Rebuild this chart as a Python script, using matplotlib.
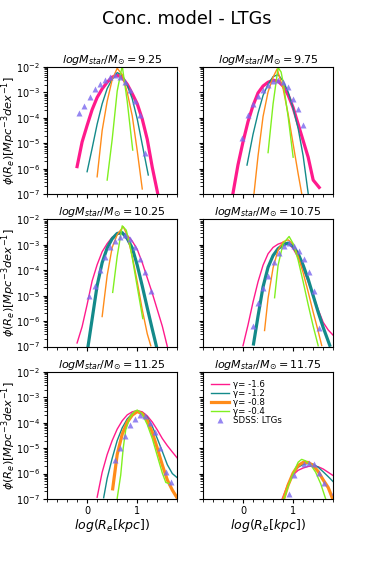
import numpy as np
import matplotlib
matplotlib.use("Agg")
import matplotlib.pyplot as plt
from matplotlib.ticker import MultipleLocator, LogLocator, NullFormatter

# mass bins (panel titles)
masses = ["9.25", "9.75", "10.25", "10.75", "11.25", "11.75"]
gammas = ["-1.6", "-1.2", "-0.8", "-0.4"]

# values: x = log(Re/kpc), y = log10(phi)
# --- logM = 9.25
p1_pink_x = [-0.2, -0.1, 0.0, 0.1, 0.2, 0.3, 0.4, 0.5, 0.6, 0.7, 0.8, 0.9, 1.0, 1.1, 1.2, 1.3, 1.4, 1.45]
p1_pink_y = [-5.92, -4.95, -4.3, -3.68, -3.2, -2.86, -2.6, -2.4, -2.32, -2.42, -2.68, -3.05, -3.45, -4.05, -4.85, -5.95, -6.9, -7.4]
p1_teal_x = [0.0, 0.1, 0.2, 0.3, 0.4, 0.5, 0.6, 0.7, 0.8, 0.9, 1.0, 1.1, 1.2, 1.22]
p1_teal_y = [-6.12, -5.2, -4.25, -3.45, -2.85, -2.48, -2.22, -2.33, -2.71, -3.25, -4.05, -5.05, -6.05, -6.25]
p1_orng_x = [0.2, 0.3, 0.4, 0.5, 0.6, 0.7, 0.8, 0.9, 1.0, 1.1]
p1_orng_y = [-6.32, -4.5, -3.35, -2.5, -2.05, -2.3, -3.0, -3.92, -5.3, -6.8]
p1_grn_x = [0.4, 0.5, 0.6, 0.7, 0.8, 0.9, 0.91]
p1_grn_y = [-6.45, -4.85, -2.95, -1.95, -3.35, -5.1, -5.27]
p1_sdss_x = [-0.16, -0.06, 0.05, 0.15, 0.25, 0.35, 0.45, 0.55, 0.65, 0.75, 0.85, 0.96, 1.06, 1.16]
p1_sdss_y = [-3.82, -3.54, -3.17, -2.86, -2.65, -2.5, -2.38, -2.32, -2.38, -2.58, -2.92, -3.33, -3.89, -5.38]

# --- logM = 9.75
p2_pink_x = [-0.2, -0.1, 0.0, 0.1, 0.2, 0.3, 0.4, 0.5, 0.6, 0.7, 0.8, 0.9, 1.0, 1.1, 1.2, 1.3, 1.4, 1.52]
p2_pink_y = [-6.97, -5.85, -4.95, -4.15, -3.52, -3.02, -2.75, -2.6, -2.52, -2.56, -2.75, -3.1, -3.6, -4.25, -4.9, -5.55, -6.45, -6.74]
p2_teal_x = [0.08, 0.2, 0.3, 0.4, 0.5, 0.6, 0.7, 0.8, 0.9, 1.0, 1.1, 1.2, 1.3]
p2_teal_y = [-5.86, -4.65, -3.82, -3.12, -2.68, -2.38, -2.3, -2.55, -2.98, -3.62, -4.42, -5.5, -6.97]
p2_orng_x = [0.22, 0.3, 0.4, 0.5, 0.6, 0.68, 0.8, 0.9, 1.0, 1.1, 1.17]
p2_orng_y = [-6.97, -5.5, -3.95, -2.98, -2.4, -2.08, -2.85, -3.85, -5.03, -6.2, -6.97]
p2_grn_x = [0.5, 0.6, 0.7, 0.76, 0.8, 0.9, 1.0]
p2_grn_y = [-5.37, -3.45, -2.02, -2.2, -2.6, -3.95, -5.55]
p2_sdss_x = [-0.01, 0.09, 0.19, 0.29, 0.39, 0.49, 0.59, 0.69, 0.79, 0.89, 0.99, 1.09, 1.2]
p2_sdss_y = [-4.81, -3.89, -3.47, -3.14, -2.91, -2.71, -2.55, -2.51, -2.58, -2.8, -3.26, -3.67, -4.3]

# --- logM = 10.25
p3_pink_x = [-0.2, -0.1, 0.0, 0.1, 0.2, 0.3, 0.4, 0.5, 0.6, 0.7, 0.8, 0.9, 1.0, 1.1, 1.2, 1.3, 1.4, 1.5, 1.6]
p3_pink_y = [-6.86, -6.22, -5.35, -4.42, -3.78, -3.27, -2.95, -2.7, -2.58, -2.54, -2.62, -2.85, -3.18, -3.7, -4.3, -4.9, -5.55, -6.2, -7.0]
p3_teal_x = [0.02, 0.1, 0.2, 0.3, 0.4, 0.5, 0.6, 0.7, 0.8, 0.9, 1.0, 1.1, 1.2, 1.3, 1.38]
p3_teal_y = [-6.97, -5.92, -4.6, -3.7, -3.12, -2.76, -2.55, -2.52, -2.75, -3.12, -3.8, -4.62, -5.48, -6.32, -6.97]
p3_orng_x = [0.3, 0.35, 0.4, 0.5, 0.6, 0.72, 0.8, 0.9, 1.0, 1.1, 1.2, 1.27]
p3_orng_y = [-5.82, -5.0, -4.2, -3.1, -2.6, -2.28, -2.62, -3.45, -4.45, -5.55, -6.5, -6.97]
p3_grn_x = [0.51, 0.6, 0.7, 0.78, 0.85, 0.9, 1.0, 1.11]
p3_grn_y = [-4.87, -3.45, -2.25, -2.42, -2.97, -3.5, -4.65, -5.9]
p3_sdss_x = [0.04, 0.15, 0.25, 0.35, 0.46, 0.55, 0.65, 0.75, 0.85, 0.95, 1.05, 1.15, 1.27]
p3_sdss_y = [-5.02, -4.6, -4.0, -3.46, -3.09, -2.83, -2.68, -2.62, -2.78, -3.09, -3.55, -4.07, -4.8]

# --- logM = 10.75
p4_pink_x = [0.0, 0.1, 0.2, 0.3, 0.4, 0.5, 0.6, 0.7, 0.8, 0.9, 1.0, 1.1, 1.2, 1.3, 1.4, 1.5, 1.6, 1.7, 1.82]
p4_pink_y = [-6.97, -6.15, -5.25, -4.45, -3.8, -3.35, -3.1, -2.97, -2.9, -2.92, -3.15, -3.5, -3.93, -4.45, -4.98, -5.55, -6.05, -6.35, -6.6]
p4_teal_x = [0.21, 0.3, 0.4, 0.5, 0.6, 0.7, 0.8, 0.9, 1.0, 1.1, 1.2, 1.3, 1.4, 1.5, 1.6, 1.73]
p4_teal_y = [-6.9, -5.8, -4.65, -3.88, -3.42, -3.15, -3.0, -2.93, -3.05, -3.35, -3.8, -4.35, -5.0, -5.65, -6.25, -6.95]
p4_orng_x = [0.43, 0.5, 0.6, 0.7, 0.8, 0.9, 1.0, 1.1, 1.2, 1.3, 1.4, 1.5, 1.57]
p4_orng_y = [-6.37, -5.1, -3.9, -3.2, -2.88, -2.8, -2.97, -3.45, -4.1, -4.85, -5.65, -6.4, -6.96]
p4_grn_x = [0.63, 0.7, 0.8, 0.92, 1.0, 1.1, 1.2, 1.3, 1.4, 1.5]
p4_grn_y = [-5.08, -3.8, -2.95, -2.67, -2.95, -3.6, -4.45, -5.35, -6.2, -6.97]
p4_sdss_x = [0.19, 0.29, 0.4, 0.5, 0.61, 0.71, 0.81, 0.91, 1.01, 1.11, 1.21, 1.31, 1.41, 1.51]
p4_sdss_y = [-6.19, -5.27, -4.68, -4.22, -3.69, -3.3, -3.04, -2.93, -3.04, -3.23, -3.56, -4.06, -4.83, -6.29]

# --- logM = 11.25
p5_pink_x = [0.2, 0.3, 0.4, 0.5, 0.6, 0.7, 0.8, 0.9, 1.0, 1.1, 1.2, 1.3, 1.4, 1.5, 1.6, 1.7, 1.82]
p5_pink_y = [-6.93, -5.95, -5.25, -4.7, -4.25, -3.92, -3.69, -3.57, -3.52, -3.57, -3.73, -3.97, -4.28, -4.62, -4.9, -5.15, -5.44]
p5_teal_x = [0.33, 0.4, 0.5, 0.6, 0.7, 0.8, 0.9, 1.0, 1.1, 1.2, 1.3, 1.4, 1.5, 1.6, 1.7, 1.82]
p5_teal_y = [-6.95, -6.19, -5.4, -4.7, -4.2, -3.85, -3.64, -3.56, -3.6, -3.78, -4.14, -4.62, -5.13, -5.65, -6.0, -6.2]
p5_orng_x = [0.51, 0.6, 0.7, 0.8, 0.9, 1.0, 1.1, 1.2, 1.3, 1.4, 1.5, 1.6, 1.7, 1.8]
p5_orng_y = [-6.6, -5.25, -4.45, -3.98, -3.7, -3.56, -3.64, -3.9, -4.38, -5.0, -5.66, -6.25, -6.65, -6.97]
p5_grn_x = [0.6, 0.67, 0.72, 0.77, 0.85, 0.94, 1.0, 1.1, 1.2, 1.3, 1.4, 1.5, 1.57, 1.65]
p5_grn_y = [-6.97, -6.06, -5.0, -4.28, -3.82, -3.56, -3.5, -3.66, -4.07, -4.62, -5.3, -5.98, -6.35, -6.4]
p5_sdss_x = [0.55, 0.65, 0.75, 0.85, 0.95, 1.05, 1.15, 1.26, 1.36, 1.46, 1.57, 1.67]
p5_sdss_y = [-5.46, -5.0, -4.52, -4.09, -3.84, -3.7, -3.72, -4.0, -4.35, -4.98, -5.92, -6.35]

# --- logM = 11.75
p6_pink_x = [0.78, 0.9, 1.0, 1.1, 1.2, 1.3, 1.4, 1.5, 1.6, 1.7, 1.83]
p6_pink_y = [-7.0, -6.4, -6.05, -5.87, -5.78, -5.72, -5.7, -5.73, -5.82, -5.95, -6.12]
p6_teal_x = [0.8, 0.9, 1.0, 1.1, 1.2, 1.3, 1.4, 1.5, 1.6, 1.7, 1.83]
p6_teal_y = [-7.0, -6.45, -6.0, -5.75, -5.64, -5.6, -5.63, -5.75, -5.93, -6.12, -6.38]
p6_orng_x = [0.81, 0.9, 1.0, 1.1, 1.2, 1.3, 1.4, 1.5, 1.6, 1.7, 1.79]
p6_orng_y = [-7.0, -6.45, -5.98, -5.68, -5.56, -5.56, -5.68, -5.92, -6.25, -6.55, -7.0]
p6_grn_x = [0.82, 0.9, 1.0, 1.1, 1.17, 1.25, 1.35, 1.45, 1.55, 1.65]
p6_grn_y = [-7.0, -6.5, -6.0, -5.55, -5.44, -5.5, -5.65, -5.95, -6.4, -7.0]
p6_sdss_x = [0.91, 1.01, 1.21, 1.31, 1.41, 1.51, 1.61, 1.81]
p6_sdss_y = [-6.82, -6.04, -5.62, -5.6, -5.62, -5.96, -6.36, -6.72]

pink_x = [p1_pink_x, p2_pink_x, p3_pink_x, p4_pink_x, p5_pink_x, p6_pink_x]
pink_y = [p1_pink_y, p2_pink_y, p3_pink_y, p4_pink_y, p5_pink_y, p6_pink_y]
teal_x = [p1_teal_x, p2_teal_x, p3_teal_x, p4_teal_x, p5_teal_x, p6_teal_x]
teal_y = [p1_teal_y, p2_teal_y, p3_teal_y, p4_teal_y, p5_teal_y, p6_teal_y]
orng_x = [p1_orng_x, p2_orng_x, p3_orng_x, p4_orng_x, p5_orng_x, p6_orng_x]
orng_y = [p1_orng_y, p2_orng_y, p3_orng_y, p4_orng_y, p5_orng_y, p6_orng_y]
grn_x = [p1_grn_x, p2_grn_x, p3_grn_x, p4_grn_x, p5_grn_x, p6_grn_x]
grn_y = [p1_grn_y, p2_grn_y, p3_grn_y, p4_grn_y, p5_grn_y, p6_grn_y]
sdss_x = [p1_sdss_x, p2_sdss_x, p3_sdss_x, p4_sdss_x, p5_sdss_x, p6_sdss_x]
sdss_y = [p1_sdss_y, p2_sdss_y, p3_sdss_y, p4_sdss_y, p5_sdss_y, p6_sdss_y]

# which gamma is drawn thick in each panel (0=pink .. 3=green)
best = [0, 0, 1, 1, 2, 2]

colors = ["#ff1a8c", "#138a8a", "#ff8c1a", "#80f020"]
ydecades = [1e-7, 1e-6, 1e-5, 1e-4, 1e-3, 1e-2]

fig = plt.figure(figsize=(3.74, 5.61), dpi=100)
axes = fig.subplots(3, 2, sharex=True, sharey=True)
fig.subplots_adjust(left=0.1257, right=0.891, bottom=0.1105, top=0.8806, wspace=0.196, hspace=0.2)
fig.suptitle("Conc. model - LTGs", fontsize=12.7, y=0.982)

for i, ax in enumerate(axes.flat):
    xs = [pink_x[i], teal_x[i], orng_x[i], grn_x[i]]
    ys = [pink_y[i], teal_y[i], orng_y[i], grn_y[i]]
    for k in range(4):
        lw = 2.3 if k == best[i] else 1.0
        ax.plot(xs[k], 10 ** np.array(ys[k]), color=colors[k], lw=lw,
                label="\u03b3= " + gammas[k])
    ax.plot(sdss_x[i], 10 ** np.array(sdss_y[i]), "^", color="#7b68ee", alpha=0.8,
            ms=3.8, mec="none", label="SDSS: LTGs")
    ax.set_yscale("log")
    ax.set_yticks(ydecades)
    ax.yaxis.set_minor_locator(LogLocator(base=10, subs=np.arange(2, 10), numticks=20))
    ax.yaxis.set_minor_formatter(NullFormatter())
    ax.set_ylim(1e-7, 1e-2)
    ax.set_xlim(-0.8, 1.8)
    ax.set_xticks([0, 1])
    ax.xaxis.set_minor_locator(MultipleLocator(0.2))
    ax.tick_params(labelsize=7, length=3, pad=2)
    ax.tick_params(which="minor", length=2)
    ax.set_title("$logM_{star}/M_{\\odot} = " + masses[i] + "$", fontsize=8, pad=3)
    if i % 2 == 0:
        ax.set_ylabel("$\\phi(R_e)[Mpc^{-3}dex^{-1}]$", fontsize=8.2)
        ax.yaxis.set_label_coords(-0.226, 0.5)
    if i >= 4:
        ax.set_xlabel("$log(R_e[kpc])$", fontsize=9, labelpad=1)

axes[2, 1].legend(loc="upper left", fontsize=6.2, frameon=False, handlelength=2.1,
                  handletextpad=0.5, borderaxespad=0.5, labelspacing=0.02)

fig.savefig("out.png", dpi=100)
